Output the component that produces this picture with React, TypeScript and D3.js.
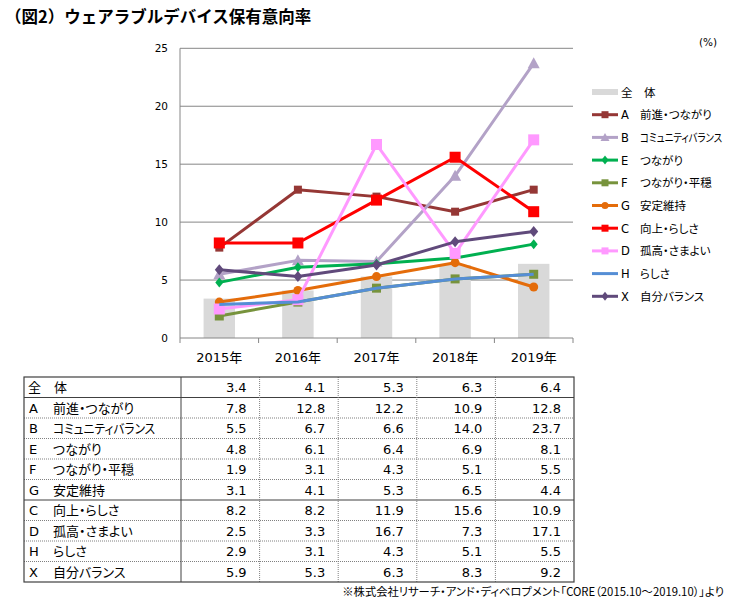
import React from "react";
import * as d3 from "d3";

const years = ["2015年", "2016年", "2017年", "2018年", "2019年"];
const totalValues = [3.4, 4.1, 5.3, 6.3, 6.4];
const seriesKeys = ["A", "B", "E", "F", "G", "C", "D", "H", "X"];
const seriesNames = ["前進・つながり", "コミュニティバランス", "つながり", "つながり・平穏", "安定維持", "向上・らしさ", "孤高・さまよい", "らしさ", "自分バランス"];
const valuesA = [7.8, 12.8, 12.2, 10.9, 12.8];
const valuesB = [5.5, 6.7, 6.6, 14.0, 23.7];
const valuesE = [4.8, 6.1, 6.4, 6.9, 8.1];
const valuesF = [1.9, 3.1, 4.3, 5.1, 5.5];
const valuesG = [3.1, 4.1, 5.3, 6.5, 4.4];
const valuesC = [8.2, 8.2, 11.9, 15.6, 10.9];
const valuesD = [2.5, 3.3, 16.7, 7.3, 17.1];
const valuesH = [2.9, 3.1, 4.3, 5.1, 5.5];
const valuesX = [5.9, 5.3, 6.3, 8.3, 9.2];
const yTicks = [0, 5, 10, 15, 20, 25];

const seriesValues = [valuesA, valuesB, valuesE, valuesF, valuesG, valuesC, valuesD, valuesH, valuesX];
const colors = ["#953735", "#b3a2c7", "#00b050", "#77933c", "#e46c0a", "#ff0000", "#ff99ff", "#558ed5", "#604a7b"];
const markers = ["square", "triangle", "diamond", "square", "circle", "square", "square", "none", "diamond"];
const markerSizes = [8, 10, 8, 9, 9, 11, 11, 0, 9];

const FONT = "'DejaVu Sans', 'Noto Sans CJK JP', sans-serif";
const JP = "'Noto Sans CJK JP', sans-serif";

function Marker({ type, cx, cy, size, color }: any) {
  const h = size / 2;
  if (type === "square") return <rect x={cx - h} y={cy - h} width={size} height={size} fill={color} />;
  if (type === "circle") return <circle cx={cx} cy={cy} r={h} fill={color} />;
  if (type === "diamond") return <path d={`M${cx},${cy - h - 1}L${cx + h},${cy}L${cx},${cy + h + 1}L${cx - h},${cy}Z`} fill={color} />;
  if (type === "triangle") return <path d={`M${cx},${cy - h - 1}L${cx + h + 1},${cy + h}L${cx - h - 1},${cy + h}Z`} fill={color} />;
  return null;
}

export default function App() {
  const left = 180, right = 573, top = 48.3, bottom = 338;
  const x = d3.scaleBand<string>().domain(years).range([left, right]);
  const y = d3.scaleLinear().domain([0, 25]).range([bottom, top]);
  const cx = (yr: string) => (x(yr) as number) + x.bandwidth() / 2;
  const barW = x.bandwidth() * 0.4;
  const line = d3.line<number>().x((_, i) => cx(years[i])).y((d) => y(d));

  const tLeft = 24, tLabelRight = 181, tRight = 574, tTop = 377, tBottom = 582;
  const colW = (tRight - tLabelRight) / 5;
  const rowH = (tBottom - tTop) / 10;
  const rows = [{ key: "全", name: "体", vals: totalValues }].concat(
    seriesKeys.map((k, i) => ({ key: k, name: seriesNames[i], vals: seriesValues[i] }))
  );

  const legendX = 592, legendY0 = 92, legendStep = 22.7;

  return (
    <svg width={730} height={604} style={{ position: "absolute", left: 0, top: 0, background: "#fff" }}>
      <text x={5} y={23} fontFamily={JP} fontWeight="bold" fontSize={16.5} fill="#000">（図2）ウェアラブルデバイス保有意向率</text>
      <text x={708} y={46} fontFamily={FONT} fontSize={10.5} textAnchor="middle" fill="#000">(%)</text>

      {yTicks.map((t) => (
        <g key={t}>
          {t > 0 && <line x1={left} x2={right} y1={y(t)} y2={y(t)} stroke="#868686" strokeWidth={1} />}
          <text x={168} y={y(t) + 4} fontFamily={FONT} fontSize={10.5} textAnchor="end" fill="#000">{t}</text>
        </g>
      ))}
      {years.map((yr, i) => (
        <rect key={yr} x={cx(yr) - barW / 2} y={y(totalValues[i])} width={barW} height={bottom - y(totalValues[i])} fill="#d9d9d9" />
      ))}
      <line x1={left} x2={left} y1={top} y2={bottom} stroke="#868686" />
      <line x1={left} x2={right} y1={bottom} y2={bottom} stroke="#868686" />
      {years.map((yr, i) => (
        <line key={"t" + i} x1={(x(yr) as number)} x2={(x(yr) as number)} y1={bottom} y2={bottom + 5} stroke="#868686" />
      ))}
      <line x1={right} x2={right} y1={bottom} y2={bottom + 5} stroke="#868686" />
      {years.map((yr) => (
        <text key={"l" + yr} x={cx(yr)} y={362} fontFamily={FONT} fontSize={13} textAnchor="middle" fill="#000">{yr}</text>
      ))}

      {seriesValues.map((vals, si) => (
        <g key={si}>
          <path d={line(vals) as string} fill="none" stroke={colors[si]} strokeWidth={3} strokeLinejoin="round" />
          {vals.map((v, i) => (
            <Marker key={i} type={markers[si]} cx={cx(years[i])} cy={y(v)} size={markerSizes[si]} color={colors[si]} />
          ))}
        </g>
      ))}

      <rect x={legendX} y={legendY0 - 3} width={26} height={6} fill="#d9d9d9" />
      <text x={621} y={legendY0 + 4.5} fontFamily={JP} fontSize={11.5} fill="#000">全　体</text>
      {seriesKeys.map((k, i) => {
        const ly = legendY0 + legendStep * (i + 1);
        const long = seriesNames[i].length >= 10;
        return (
          <g key={k}>
            <line x1={legendX} x2={legendX + 26} y1={ly} y2={ly} stroke={colors[i]} strokeWidth={3} />
            <Marker type={markers[i]} cx={legendX + 13} cy={ly} size={Math.min(markerSizes[i], 7)} color={colors[i]} />
            <text x={621} y={ly + 4.5} fontFamily={FONT} fontSize={11.5} fill="#000">{k}</text>
            <text transform={`translate(640,${ly + 4.5}) scale(${long ? 0.82 : 1},1)`} fontFamily={JP} fontSize={11.5} fill="#000"
              style={{ fontFeatureSettings: "'palt'" }}>{seriesNames[i]}</text>
          </g>
        );
      })}

      {rows.map((r, ri) => {
        const ry = tTop + ri * rowH;
        const long = r.name.length >= 10;
        return (
          <g key={ri}>
            {ri === 0 ? (
              <text x={28} y={ry + 15} fontFamily={JP} fontSize={13} fill="#000">全　体</text>
            ) : (
              <>
                <text x={29} y={ry + 15} fontFamily={FONT} fontSize={13} fill="#000">{r.key}</text>
                <text transform={`translate(53,${ry + 15}) scale(${long ? 0.9 : 1},1)`} fontFamily={JP} fontSize={13} fill="#000"
                  style={{ fontFeatureSettings: "'palt'" }}>{r.name}</text>
              </>
            )}
            {r.vals.map((v, ci) => (
              <text key={ci} x={tLabelRight + colW * (ci + 1) - 13} y={ry + 15} fontFamily={FONT} fontSize={13} textAnchor="end" fill="#000">{v.toFixed(1)}</text>
            ))}
            {ri > 0 && (
              <line x1={tLeft} x2={tRight} y1={ry} y2={ry}
                stroke={ri === 1 || ri === 6 ? "#404040" : "#808080"} strokeWidth={1}
                strokeDasharray={ri === 1 || ri === 6 ? undefined : "1,1"} />
            )}
          </g>
        );
      })}
      {[1, 2, 3, 4].map((ci) => (
        <line key={ci} x1={tLabelRight + colW * ci} x2={tLabelRight + colW * ci} y1={tTop} y2={tBottom} stroke="#808080" strokeDasharray="1,1" />
      ))}
      <line x1={tLabelRight} x2={tLabelRight} y1={tTop} y2={tBottom} stroke="#404040" />
      <rect x={tLeft} y={tTop} width={tRight - tLeft} height={tBottom - tTop} fill="none" stroke="#404040" strokeWidth={1.2} />

      <text x={724} y={596} fontFamily={JP} fontSize={11.3} textAnchor="end" fill="#000" style={{ fontFeatureSettings: "'palt'" }}>※株式会社リサーチ・アンド・ディベロプメント「CORE（2015.10～2019.10）」より</text>
    </svg>
  );
}
